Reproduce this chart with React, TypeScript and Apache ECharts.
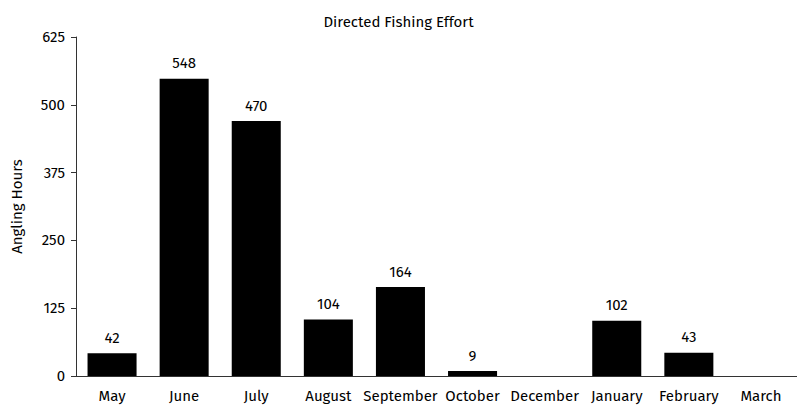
import React, { useEffect, useRef } from "react";
import * as echarts from "echarts";

const categories = ["May", "June", "July", "August", "September", "October", "December", "January", "February", "March"];
const values = [42, 548, 470, 104, 164, 9, 0, 102, 43, 0];
const labelsShown = ["42", "548", "470", "104", "164", "9", "", "102", "43", ""];
const yTicks = [0, 125, 250, 375, 500, 625];

const FONT = "'Fira Sans', Roboto, 'Noto Sans', sans-serif";
const FS = 15;
const FW = 400;

export default function App() {
  const ref = useRef<HTMLDivElement>(null);
  useEffect(() => {
    if (!ref.current) return;
    const chart = echarts.init(ref.current, null, { renderer: "svg" });
    chart.setOption({
      animation: false,
      textStyle: { fontFamily: FONT },
      title: {
        text: "Directed Fishing Effort",
        left: "center",
        top: 9,
        textStyle: { fontFamily: FONT, fontSize: FS, fontWeight: FW, color: "#000" },
      },
      grid: { left: 76, right: 0, top: 37, bottom: 32, containLabel: false },
      xAxis: {
        type: "category",
        data: categories,
        axisLine: { lineStyle: { color: "#333", width: 1 } },
        axisTick: { inside: true, length: 5, lineStyle: { color: "#333" } },
        axisLabel: { color: "#000", fontSize: FS, fontWeight: FW, fontFamily: FONT, margin: 12, interval: 0 },
      },
      yAxis: {
        type: "value",
        min: yTicks[0],
        max: yTicks[yTicks.length - 1],
        interval: 125,
        name: "Angling Hours",
        nameLocation: "middle",
        nameGap: 52,
        nameTextStyle: { color: "#000", fontSize: FS, fontWeight: FW, fontFamily: FONT },
        axisLine: { show: true, lineStyle: { color: "#333", width: 1 } },
        axisTick: { show: true, length: 5, lineStyle: { color: "#333" } },
        axisLabel: { color: "#000", fontSize: FS, fontWeight: FW, fontFamily: FONT, margin: 11 },
        splitLine: { show: false },
      },
      series: [
        {
          type: "bar",
          data: values,
          barCategoryGap: "32%",
          itemStyle: { color: "#000" },
          label: {
            show: true,
            position: "top",
            distance: 8,
            color: "#000",
            fontSize: FS,
            fontWeight: FW,
            fontFamily: FONT,
            formatter: (p: any) => labelsShown[p.dataIndex],
          },
        },
      ],
    });
    return () => chart.dispose();
  }, []);
  return (
    <div
      ref={ref}
      style={{ position: "fixed", left: 0, top: 0, width: 797, height: 408, background: "#fff" }}
    />
  );
}
